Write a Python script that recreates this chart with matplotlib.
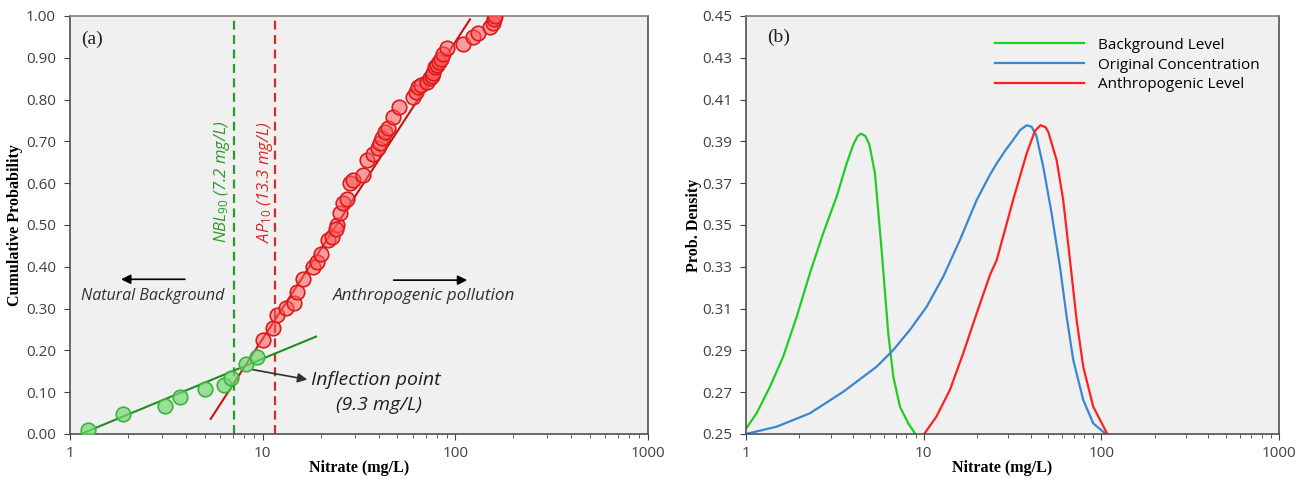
import numpy as np
import matplotlib
matplotlib.use("Agg")
import matplotlib.pyplot as plt

plt.rcParams['font.family'] = ['Open Sans', 'DejaVu Sans']
plt.rcParams['mathtext.fontset'] = 'custom'
plt.rcParams['mathtext.it'] = 'Open Sans:italic'
plt.rcParams['mathtext.rm'] = 'Open Sans'

# ---- panel (a): cumulative probability plot ----
green_x = [1.245, 1.88, 3.11, 3.74, 5.0, 6.3, 6.85, 8.16, 9.34]
green_y = [0.010, 0.048, 0.068, 0.088, 0.108, 0.116, 0.135, 0.167, 0.183]

red_x = [10.07, 11.27, 11.9, 13.2, 14.5, 15.0, 16.2, 18.2, 19.1, 20.0, 21.9, 22.8,
         24.4, 24.0, 25.2, 26.2, 27.3, 28.4, 29.3, 33.0, 34.7, 37.5, 39.8, 40.5, 41.5,
         43.1, 44.9, 47.3, 51.0, 60.5, 62.5, 64.2, 66.5, 71.0, 73.8, 75.5, 76.8, 78.4,
         80.5, 82.0, 83.9, 85.9, 90.7, 110, 123, 131.6, 151, 156, 158, 160]
red_y = [0.225, 0.253, 0.285, 0.301, 0.314, 0.340, 0.370, 0.400, 0.412, 0.430, 0.464, 0.471,
         0.500, 0.490, 0.528, 0.552, 0.561, 0.600, 0.608, 0.620, 0.655, 0.670, 0.683, 0.695, 0.707,
         0.723, 0.731, 0.759, 0.783, 0.805, 0.819, 0.829, 0.836, 0.843, 0.851, 0.857, 0.863, 0.879,
         0.883, 0.890, 0.897, 0.909, 0.923, 0.933, 0.949, 0.960, 0.973, 0.984, 0.992, 1.000]

green_fit_x = [1.14, 18.9]
green_fit_y = [0.0, 0.233]
red_fit_x = [5.37, 119]
red_fit_y = [0.036, 0.992]

nbl90 = 7.12
ap10 = 11.6

# ---- panel (b): probability density curves ----
bg_x = [1.0, 1.148, 1.365, 1.62, 1.93, 2.29, 2.72, 3.24, 3.69, 4.02, 4.25, 4.45, 4.7, 4.95,
        5.32, 5.80, 6.32, 6.75, 7.36, 8.19, 8.93]
bg_y = [0.2525, 0.2599, 0.2726, 0.287, 0.3061, 0.3269, 0.346, 0.3636, 0.3795, 0.3885,
        0.3925, 0.3937, 0.3925, 0.3885, 0.3747, 0.338, 0.2982, 0.2774, 0.263, 0.2551, 0.2503]

orig_x = [1.0, 1.49, 2.29, 3.53, 5.44, 6.75, 8.37, 10.4, 12.9, 16.0, 19.9, 23.6, 25.8,
          29.0, 31.9, 35.0, 38.0, 40.5, 43.0, 47.1, 52.5, 58.5, 63.8, 69.5, 79.1, 90.0, 106]
orig_y = [0.250, 0.2535, 0.2599, 0.2702, 0.2822, 0.2902, 0.2998, 0.3109, 0.3253, 0.3428,
          0.362, 0.3740, 0.3795, 0.3860, 0.3907, 0.3955, 0.3977, 0.3970, 0.3930, 0.3779,
          0.3556, 0.330, 0.3061, 0.2854, 0.2663, 0.2551, 0.250]

anth_x = [10.07, 11.8, 14.06, 16.7, 19.9, 23.6, 25.8, 31.9, 38.0, 42.3, 45.5, 48.5, 50.3,
          56.0, 61.0, 66.6, 72.6, 79.1, 90.0, 108]
anth_y = [0.250, 0.2583, 0.2711, 0.2886, 0.3078, 0.3260, 0.3333, 0.362, 0.3842, 0.3950,
          0.3977, 0.3968, 0.3945, 0.3811, 0.362, 0.3333, 0.3045, 0.2822, 0.2631, 0.250]

curve_labels = ['Background Level', 'Original Concentration', 'Anthropogenic Level']

bg_color = '#f0f0f0'
tick_color = '#404040'
serif = 'Liberation Serif'

fig = plt.figure(figsize=(13.11, 4.79), dpi=100)
ax1 = fig.add_axes([0.0534, 0.094, 0.441, 0.8727])
ax2 = fig.add_axes([0.569, 0.094, 0.4066, 0.8727])

for ax in (ax1, ax2):
    ax.set_facecolor(bg_color)
    ax.set_xscale('log')
    ax.set_xlim(1, 1000)
    ax.set_xticks([1, 10, 100, 1000])
    ax.set_xticklabels(['1', '10', '100', '1000'])
    ax.tick_params(axis='both', which='major', direction='out', length=4,
                   color='#404040', labelcolor=tick_color, labelsize=11, pad=5)
    ax.tick_params(axis='y', which='major', pad=6)
    ax.tick_params(axis='x', which='minor', direction='out', length=3, color='#404040')
    ax.tick_params(axis='y', which='minor', left=False)
    for s in ax.spines.values():
        s.set_color('#505050')
        s.set_linewidth(1.2)
    ax.spines['top'].set_color('#808080')
    ax.set_xlabel('Nitrate (mg/L)', family=serif, weight='bold', fontsize=11.5)

# panel (a)
ax1.set_ylim(0, 1)
ax1.set_yticks(np.arange(0, 1.01, 0.1))
ax1.set_yticklabels([f'{v:.2f}' for v in np.arange(0, 1.01, 0.1)])
ax1.set_ylabel('Cumulative Probability', family=serif, weight='bold', fontsize=11.5, labelpad=2)
ax1.xaxis.set_label_coords(0.5, -0.062)

ax1.axvline(nbl90, color='#2a9a2a', ls='--', lw=1.6, dashes=(4, 2.5))
ax1.axvline(ap10, color='#d42a2a', ls='--', lw=1.6, dashes=(4, 2.5))

ax1.plot(green_fit_x, green_fit_y, color='#1f8f1f', lw=1.5, zorder=3)
ax1.plot(red_fit_x, red_fit_y, color='#cc1111', lw=1.5, zorder=3)

ax1.scatter(green_x, green_y, s=110, facecolor=(0.45, 0.85, 0.45, 0.7),
            edgecolor='#3cb43c', linewidth=1.2, zorder=4)
ax1.scatter(red_x, red_y, s=110, facecolor=(1.0, 0.35, 0.35, 0.55),
            edgecolor='#dd1a1a', linewidth=1.2, zorder=4)

ax1.text(6.13, 0.603, r'$\mathit{NBL}_{\mathit{90}}$ (7.2 mg/L)', rotation=90, color='#2a9a2a',
         style='italic', fontsize=12, ha='center', va='center')
ax1.text(10.3, 0.603, r'$\mathit{AP}_{\mathit{10}}$ (13.3 mg/L)', rotation=90, color='#d42a2a',
         style='italic', fontsize=12, ha='center', va='center')

ax1.annotate('', xy=(1.78, 0.370), xytext=(4.08, 0.370),
             arrowprops=dict(arrowstyle='-|>', color='black', lw=1.2, mutation_scale=14))
ax1.text(2.70, 0.331, 'Natural Background', style='italic', color='#303030',
         fontsize=11.5, ha='center', va='center')
ax1.annotate('', xy=(119, 0.368), xytext=(46.2, 0.368),
             arrowprops=dict(arrowstyle='-|>', color='black', lw=1.2, mutation_scale=14))
ax1.text(68.7, 0.331, 'Anthropogenic pollution', style='italic', color='#303030',
         fontsize=12.3, ha='center', va='center')
ax1.annotate('', xy=(17.6, 0.129), xytext=(8.6, 0.155),
             arrowprops=dict(arrowstyle='-|>', color='#303030', lw=1.2, mutation_scale=14))
ax1.text(38.5, 0.129, 'Inflection point', style='italic', color='#202020',
         fontsize=14, ha='center', va='center')
ax1.text(40, 0.069, '(9.3 mg/L)', style='italic', color='#202020',
         fontsize=14, ha='center', va='center')
ax1.text(1.3, 0.943, '(a)', family=serif, fontsize=14, color='#202020',
         ha='center', va='center')

# panel (b)
ax2.set_ylim(0.25, 0.45)
ax2.set_yticks(np.arange(0.25, 0.451, 0.02))
ax2.set_yticklabels([f'{v:.2f}' for v in np.arange(0.25, 0.451, 0.02)])
ax2.set_ylabel('Prob. Density', family=serif, weight='bold', fontsize=11.5, labelpad=0)
ax2.xaxis.set_label_coords(0.48, -0.062)

ax2.plot(bg_x, bg_y, color='#22cc22', lw=1.6, label=curve_labels[0])
ax2.plot(orig_x, orig_y, color='#3a86d0', lw=1.6, label=curve_labels[1])
ax2.plot(anth_x, anth_y, color='#ff2020', lw=1.6, label=curve_labels[2])
ax2.legend(loc='upper left', bbox_to_anchor=(0.468, 0.948), frameon=False,
           fontsize=11, handlelength=5.8, handletextpad=0.9, labelspacing=0.32,
           borderaxespad=0, borderpad=0)
ax2.text(0.039, 0.949, '(b)', transform=ax2.transAxes, family=serif, fontsize=14,
         color='#202020', ha='left', va='center')

fig.savefig('out.png', dpi=100)
